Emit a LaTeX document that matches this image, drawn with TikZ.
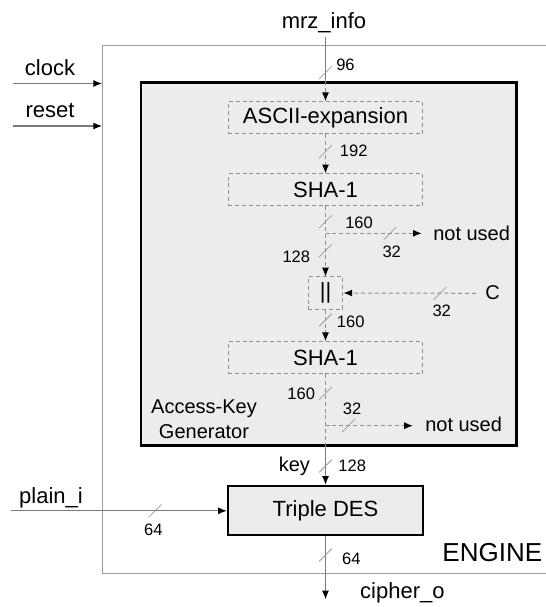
\documentclass[tikz,border=0pt]{standalone}
\usepackage{fontspec}
\setmainfont{Liberation Sans}
\usetikzlibrary{arrows.meta}
\definecolor{boxfill}{HTML}{ECECEC}
\definecolor{wire}{HTML}{7A7A7A}
\definecolor{dwire}{HTML}{8E8E8E}
\definecolor{slc}{HTML}{9A9A9A}
\definecolor{frame}{HTML}{9C9C9C}
\newcommand\busmark[2]{\draw[slashst] ({#1-6.3},{#2+6.3}) -- ({#1+6.3},{#2-6.3});}
\begin{document}
\begin{tikzpicture}[x=0.75pt,y=-0.75pt,
  bigtxt/.style={font=\fontsize{16.5}{18}\selectfont, inner sep=0pt},
  midtxt/.style={font=\fontsize{15}{17.5}\selectfont, inner sep=0pt},
  numtxt/.style={font=\fontsize{12.4}{14}\selectfont, inner sep=0pt},
  dbox/.style={draw=dwire, dash pattern=on 3pt off 2.2pt, line width=0.75pt,
     minimum width=145.7pt, minimum height=23.8pt, inner sep=0pt,
     font=\fontsize{16.5}{18}\selectfont},
  solidw/.style={draw=wire, line width=0.8pt},
  dashw/.style={draw=dwire, line width=0.75pt, dash pattern=on 3pt off 2.2pt},
  arr/.style={-{Latex[length=6.5pt,width=5.2pt,color=black]}},
  slashst/.style={draw=slc, line width=0.55pt}
]
\useasboundingbox (0,0) rectangle (546,607);

% ENGINE frame (open to the right)
\draw[draw=frame, line width=0.75pt] (560,45) -- (102,45) -- (102,573.3) -- (560,573.3);

% Access-Key Generator block
\node[draw=black, fill=boxfill, line width=1.9pt, minimum width=281.8pt, minimum height=272.3pt, inner sep=0pt]
  (gen) at (328.85,264) {};
\node[midtxt, align=center, anchor=base] (genlbl) at (204,438.3) {Access-Key\\[1.25pt]Generator};

% inner boxes
\node[dbox] (ascii) at (325.5,117.5) {ASCII-expansion};
\node[dbox] (sha1) at (325.5,189.7) {SHA-1};
\node[dbox, minimum width=26.2pt, minimum height=24.2pt] (cat) at (325.5,293) {||};
\node[dbox] (sha2) at (325.5,357.5) {SHA-1};
\node[draw=black, fill=boxfill, line width=1.9pt, minimum width=146.2pt, minimum height=36.75pt, inner sep=0pt,
  font=\fontsize{16.5}{18}\selectfont] (tdes) at (325.5,510.5) {Triple DES};

% external labels
\node[bigtxt, anchor=base] (mrz) at (324,28.3) {mrz\_info};
\node[bigtxt, anchor=base] (clk) at (50,75) {clock};
\node[bigtxt, anchor=base] (rst) at (50,117) {reset};
\node[bigtxt, anchor=base] (pln) at (51,503.5) {plain\_i};
\node[bigtxt, anchor=base] (cph) at (402.4,598) {cipher\_o};
\node[midtxt, anchor=base] (cin) at (492.6,299.3) {C};
\node[midtxt, anchor=base west] (nu1) at (433,240) {not used};
\node[midtxt, anchor=base west] (nu2) at (425,431.7) {not used};
\node[font=\fontsize{19.5}{22}\selectfont, inner sep=0pt, anchor=base] (eng) at (492.3,561.7) {ENGINE};
\node[midtxt, anchor=base] (keylbl) at (294.4,471.7) {key};

% coordinates
\coordinate (mtop) at (325.5,37.3);
\coordinate (gtop) at (ascii.north |- gen.north);
\coordinate (gbot) at (ascii.north |- gen.south);
\coordinate (br1) at (325.5,233.3);
\coordinate (br1e) at (421.7,233.3);
\coordinate (cst) at (476,293.3);
\coordinate (br2) at (325.5,425.7);
\coordinate (br2e) at (412.9,425.7);
\coordinate (cout) at (325.5,599.3);
\coordinate (clkL) at (12.5,83.5);
\coordinate (clkR) at (102,83.5);
\coordinate (rstL) at (12.5,126);
\coordinate (rstR) at (102,126);
\coordinate (plnL) at (10.5,510.8);

% connectors
\draw[solidw] (mtop) -- (gtop);
\draw[dashw, arr] (gtop) -- (ascii.north);
\draw[dashw, arr] (ascii.south) -- (sha1.north);
\draw[dashw, arr] (sha1.south) -- (cat.north);
\draw[dashw, arr] (br1) -- (br1e);
\draw[dashw, arr] (cst) -- (cat.east);
\draw[dashw, arr] (cat.south) -- (sha2.north);
\draw[dashw] (sha2.south) -- (gbot);
\draw[dashw, arr] (br2) -- (br2e);
\draw[solidw, arr] (gbot) -- (tdes.north);
\draw[solidw, arr] (tdes.south) -- (cout);
\draw[solidw, arr] (plnL) -- (plnL -| tdes.west);
\draw[solidw, arr] (clkL) -- (clkR);
\draw[solidw, arr] (rstL) -- (rstR);

% bus width marks
\busmark{325.5}{72.7}
\busmark{325.5}{151.7}
\busmark{325.5}{221.7}
\busmark{390}{233.3}
\busmark{325.5}{250.7}
\busmark{440}{293.3}
\busmark{325.5}{320}
\busmark{325.5}{393.3}
\busmark{348.4}{425.7}
\busmark{325.5}{466}
\busmark{155}{510.8}
\busmark{325.5}{555}

% bus width labels
\node[numtxt, anchor=base west] (w96) at (336,70.7) {96};
\node[numtxt, anchor=base west] (w192) at (339.7,156) {192};
\node[numtxt, anchor=base west] (w160a) at (345,228.3) {160};
\node[numtxt, anchor=base] (w32a) at (391.7,257.3) {32};
\node[numtxt, anchor=base] (w128a) at (296.3,262.7) {128};
\node[numtxt, anchor=base] (w32b) at (441.7,316.7) {32};
\node[numtxt, anchor=base west] (w160b) at (336.7,327.3) {160};
\node[numtxt, anchor=base east] (w160c) at (315.3,399.3) {160};
\node[numtxt, anchor=base] (w32c) at (352,414) {32};
\node[numtxt, anchor=base] (w128b) at (352.2,471.7) {128};
\node[numtxt, anchor=base] (w64a) at (153.3,535.3) {64};
\node[numtxt, anchor=base] (w64b) at (351.3,564) {64};
\end{tikzpicture}
\end{document}
